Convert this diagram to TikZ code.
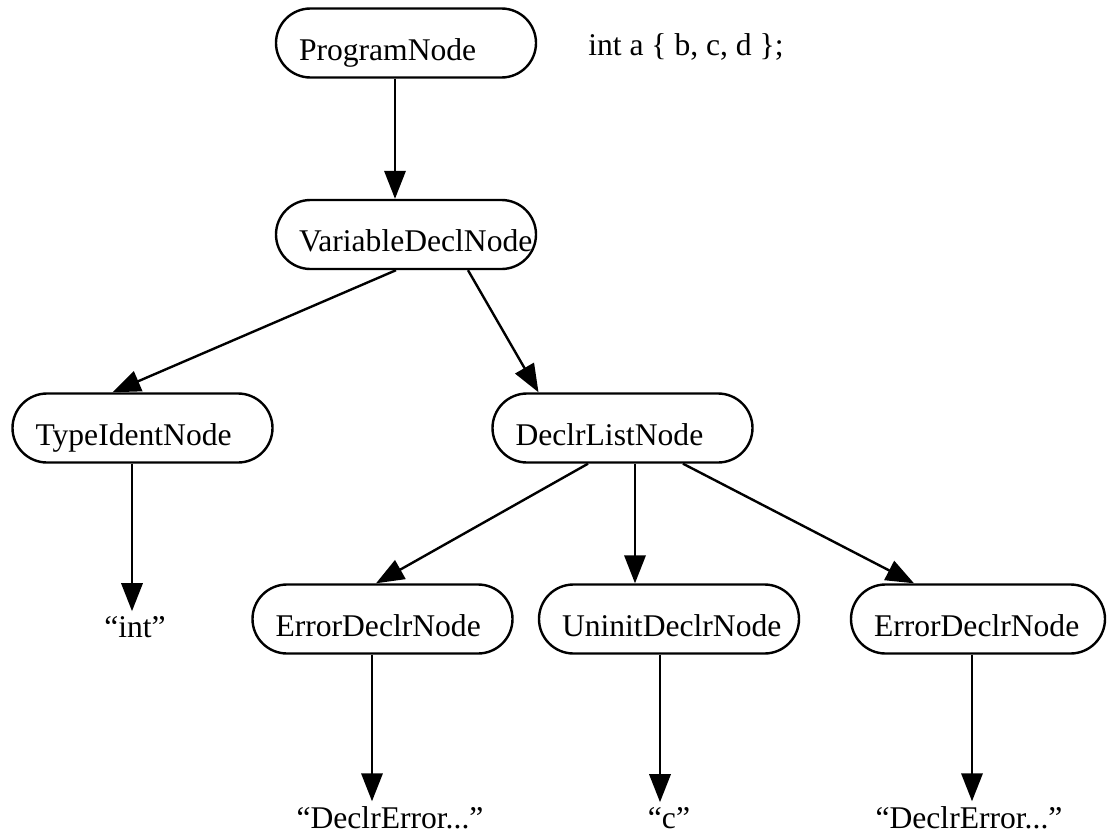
\documentclass[tikz,border=0pt]{standalone}
\usepackage{fontspec}
\setmainfont{Liberation Serif}
\usetikzlibrary{arrows.meta,calc,shapes.misc}

\begin{document}
\begin{tikzpicture}[x=0.75pt,y=-0.75pt,font=\fontsize{23.7}{28}\selectfont]
		\tikzstyle{astnode}=[draw, line width=1.8pt, rounded rectangle, minimum height=51.75pt, minimum width=195pt, text width=143.25pt, inner xsep=0pt, align=left, text height=25.5pt, text depth=0pt, execute at begin node={\hyphenpenalty=10000\hspace*{-8.625pt}}]
		\tikzstyle{leaf}=[inner sep=3.4pt, anchor=base]
		\tikzstyle{link}=[line width=1.8pt, -{Triangle[length=21pt,width=16pt]}]
		\useasboundingbox (0,0) rectangle (1107,835);
		% tree nodes
		\node[astnode] (prog) at (406,43) {ProgramNode};
		\node[anchor=base west, inner sep=0pt] (code) at (588,55) {int a \{ b, c, d \};};
		\node[astnode] (vardecl) at (406,234.5) {VariableDeclNode};
		\node[astnode] (typeident) at (142.5,428) {TypeIdentNode};
		\node[astnode] (declrlist) at (622.5,428) {DeclrListNode};
		\node[leaf] (int) at (135,637) {“int”};
		\node[astnode] (errleft) at (382.5,619) {ErrorDeclrNode};
		\node[astnode] (uninit) at (669,619) {UninitDeclrNode};
		\node[astnode, text width=138.75pt, minimum width=190.5pt] (errright) at (978,619) {ErrorDeclrNode};
		\node[leaf] (errtxt1) at (390,828) {“DeclrError...”};
		\node[leaf] (ctxt) at (669,828) {“c”};
		\node[leaf] (errtxt2) at (969,828) {“DeclrError...”};
		% edges
		\draw[link] ($(prog.south)+(-11,0)$) -- ($(vardecl.north)+(-11,0)$);
		\draw[link] ($(vardecl.south)+(-10,0)$) -- ($(typeident.north)+(-30,0)$);
		\draw[link] ($(vardecl.south)+(62,0)$) -- ($(declrlist.north)+(-84,0)$);
		\draw[link] ($(typeident.south)+(-10.5,0)$) -- ($(int.north)+(-3,0)$);
		\draw[link] ($(declrlist.south)+(-34.5,0)$) -- ($(errleft.north)+(-6.5,0)$);
		\draw[link] ($(declrlist.south)+(12.5,0)$) -- ($(uninit.north)+(-34,0)$);
		\draw[link] ($(declrlist.south)+(60.5,0)$) -- ($(errright.north)+(-64,0)$);
		\draw[link] ($(errleft.south)+(-10.5,0)$) -- ($(errtxt1.north)+(-18,0)$);
		\draw[link] ($(uninit.south)+(-9,0)$) -- ($(ctxt.north)+(-9,0)$);
		\draw[link] ($(errright.south)+(-6,0)$) -- ($(errtxt2.north)+(3,0)$);
	\end{tikzpicture}
\end{document}
